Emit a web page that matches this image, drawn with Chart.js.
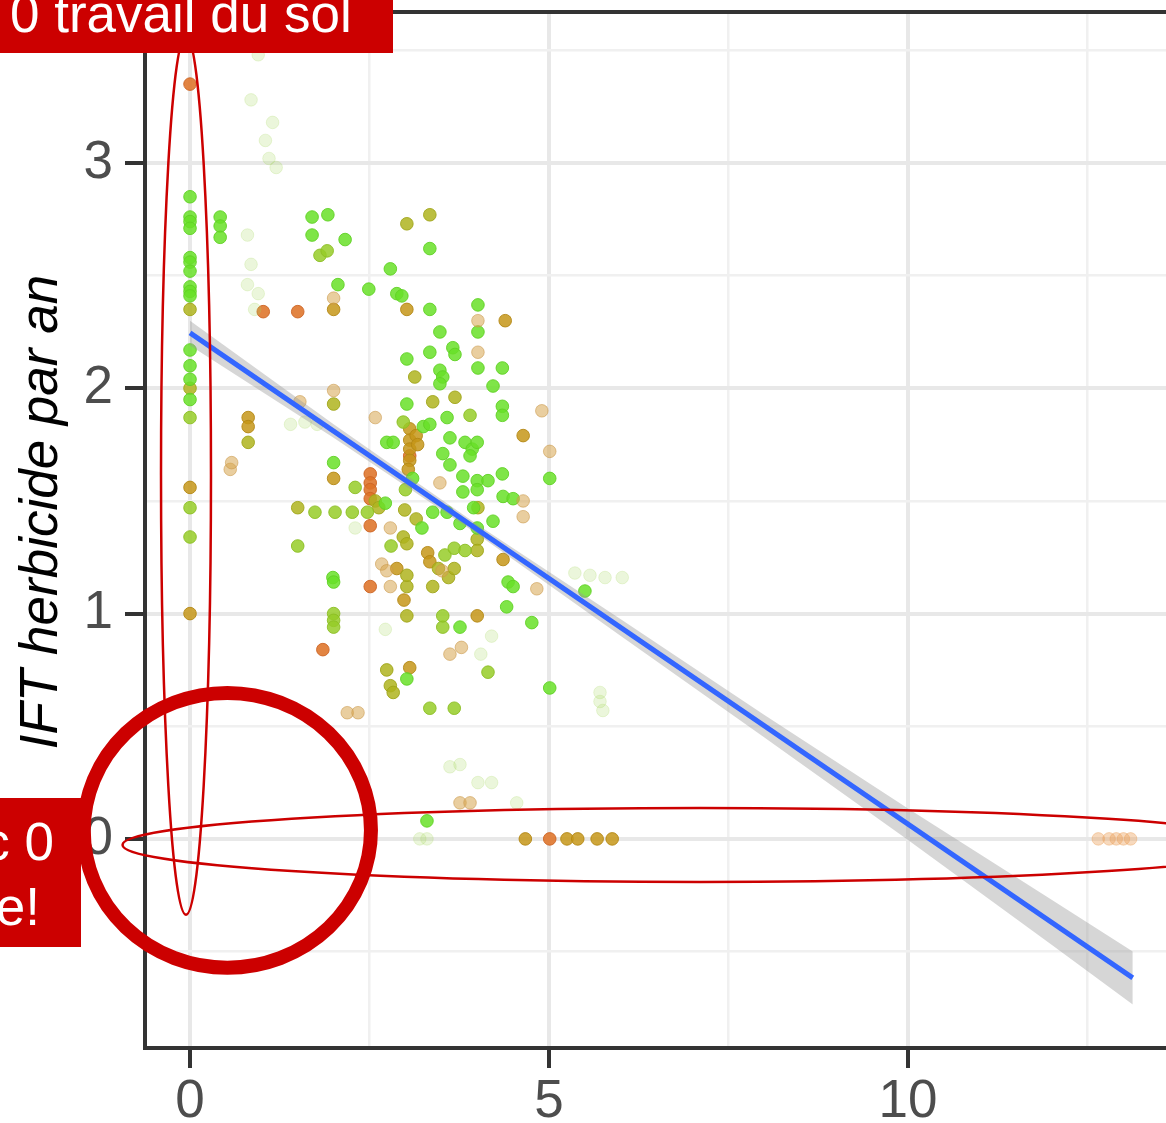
<!DOCTYPE html>
<html>
<head>
<meta charset="utf-8">
<script src="https://cdn.jsdelivr.net/npm/chart.js@4/dist/chart.umd.min.js"></script>
<style>
  html, body { margin: 0; padding: 0; background: #ffffff; overflow: hidden; }
  #wrap { width: 1166px; height: 1123px; }
</style>
</head>
<body>
<div id="wrap"><canvas id="chart" width="1166" height="1123"></canvas></div>
<script>
// ---- axes ----
const xTickValues = [0, 2.5, 5, 7.5, 10, 12.5];
const xTickLabels = ['0', '', '5', '', '10', ''];
const yTickValues = [-0.5, 0, 0.5, 1, 1.5, 2, 2.5, 3, 3.5];
const yTickLabels = ['', '0', '', '1', '', '2', '', '3', ''];
const yTitle = 'IFT herbicide par an';

// ---- observations, grouped by colour (x, IFT herbicide) ----
const greenPts = [
  [0,2.85],[0,2.76],[0,2.74],[0,2.71],[0,2.58],[0,2.56],[0,2.52],[0,2.45],[0,2.43],[0,2.41],
  [0,2.17],[0,2.10],[0,2.04],[0,1.95],[0.42,2.76],[0.42,2.72],[0.42,2.67],
  [1.70,2.76],[1.92,2.77],[1.70,2.68],[2.16,2.66],[2.06,2.46],[2.49,2.44],[2.79,2.53],[2.88,2.42],
  [2.95,2.41],[3.34,2.62],[3.34,2.35],[4.01,2.37],[4.01,2.25],[3.48,2.25],[3.34,2.16],[3.66,2.18],
  [3.69,2.15],[3.02,2.13],[3.48,2.08],[3.52,2.05],[3.48,2.02],[4.01,2.09],[4.35,2.09],[4.22,2.01],
  [3.02,1.93],[4.35,1.92],[4.35,1.88],[2.74,1.76],[2.83,1.76],[3.25,1.83],[3.34,1.84],[3.58,1.87],
  [3.62,1.78],[3.52,1.71],[3.83,1.76],[3.93,1.73],[4.00,1.76],[3.90,1.70],[4.35,1.62],[5.01,1.60],
  [2.00,1.67],[3.80,1.61],[4.00,1.59],[3.80,1.54],[4.00,1.55],[4.36,1.52],[4.50,1.51],[3.38,1.45],
  [3.58,1.45],[3.76,1.40],[4.00,1.38],[4.22,1.41],[3.23,1.38],[4.43,1.14],[4.50,1.12],[1.99,1.16],
  [2.00,1.14],[3.76,0.94],[4.41,1.03],[4.76,0.96],[5.01,0.67],[3.30,0.08],[5.50,1.10],[3.02,0.71],
  [2.72,1.49],[3.10,1.60],[3.62,1.66],[4.15,1.59],[3.95,1.47]
];
const limePts = [
  [0,1.87],[0,1.47],[0,1.34],[1.81,2.59],[1.91,2.61],[3.90,1.88],[2.97,1.85],[2.30,1.56],[3.00,1.55],
  [1.74,1.45],[2.02,1.45],[2.26,1.45],[2.47,1.45],[1.50,1.30],[3.55,1.26],[3.68,1.29],[3.83,1.28],
  [2.00,1.00],[2.00,0.97],[2.00,0.94],[3.52,0.94],[3.52,0.99],[3.34,0.58],[3.68,0.58],[4.15,0.74],
  [2.80,1.30]
];
const olivePts = [
  [0,2.35],[0,2.00],[3.02,2.73],[3.34,2.77],[3.13,2.05],[3.69,1.96],[3.38,1.94],[2.00,1.93],[1.50,1.47],
  [2.99,1.46],[3.15,1.42],[4.01,1.47],[2.97,1.34],[3.02,1.31],[4.00,1.33],[4.00,1.28],[3.46,1.20],
  [3.60,1.16],[3.68,1.20],[3.02,0.99],[2.74,0.75],[2.79,0.68],[2.83,0.65],[3.02,1.12],[3.02,1.17],
  [3.38,1.12],[0.81,1.76],[2.58,1.50],[2.63,1.47]
];
const amberPts = [
  [2.00,2.35],[3.02,2.35],[4.39,2.30],[0.81,1.87],[0.81,1.83],[3.06,1.82],[3.06,1.77],[3.06,1.73],
  [3.06,1.68],[3.04,1.64],[3.15,1.79],[3.17,1.75],[2.00,1.60],[3.31,1.27],[3.34,1.23],[4.36,1.24],
  [4.00,0.99],[3.06,0.76],[0,1.56],[0,1.00],[4.67,0],[5.25,0],[5.40,0],[5.67,0],[5.88,0],[4.64,1.79],
  [2.88,1.20],[2.98,1.06]
];
const orangePts = [
  [0,3.35],[1.02,2.34],[1.50,2.34],[2.51,1.62],[2.51,1.58],[2.51,1.55],[2.51,1.51],[2.51,1.39],
  [2.51,1.12],[5.01,0],[1.85,0.84],[3.06,1.70]
];
const tanPts = [
  [2.00,2.40],[4.01,2.30],[4.01,2.16],[4.90,1.90],[5.01,1.72],[2.58,1.87],[3.48,1.58],[4.64,1.50],
  [4.64,1.43],[2.79,1.38],[3.51,1.19],[4.83,1.11],[2.67,1.22],[2.74,1.19],[2.79,1.12],[3.78,0.85],
  [3.62,0.82],[2.19,0.56],[2.34,0.56],[3.76,0.16],[3.90,0.16],[0.56,1.64],[0.58,1.67],[1.53,1.94],
  [2.00,1.99]
];
const paleGreenPts = [
  [0.95,3.48],[0.85,3.28],[1.05,3.10],[1.15,3.18],[1.10,3.02],[1.20,2.98],[0.80,2.68],[0.85,2.55],
  [0.95,2.42],[0.80,2.46],[0.90,2.35],[1.40,1.84],[1.60,1.85],[1.77,1.84],[2.30,1.38],[2.72,0.93],
  [3.62,0.32],[3.76,0.33],[4.01,0.25],[4.20,0.25],[4.55,0.16],[3.20,0],[3.30,0],[5.36,1.18],
  [5.57,1.17],[5.78,1.16],[6.02,1.16],[5.71,0.65],[5.75,0.57],[5.71,0.61],[4.20,0.90],[4.05,0.82]
];
const paleOrangePts = [[12.65,0],[12.80,0],[12.90,0],[13.00,0],[13.10,0]];

// ---- linear fit and its confidence band ----
const fitX = [0, 13.13];
const fitY = [2.246, -0.617];
const bandX = [0, 2, 4, 6, 8, 10, 12, 13.13];
const bandUpper = [2.30, 1.84, 1.395, 0.975, 0.55, 0.135, -0.27, -0.50];
const bandLower = [2.19, 1.78, 1.353, 0.90, 0.45, -0.005, -0.47, -0.735];

// ---- callouts ----
const calloutTop = '0 travail du sol';
const calloutLeft = ['c 0', 'e!'];

const toXY = pts => pts.map(p => ({ x: p[0], y: p[1] }));
const zip = (xs, ys) => xs.map((v, i) => ({ x: v, y: ys[i] }));

const FONT = '"Liberation Sans", Arial, Helvetica, sans-serif';
const RED = '#cc0000';

function pointSet(pts, fill, edge) {
  return {
    type: 'scatter', data: toXY(pts), order: 5,
    pointRadius: 6.3, pointHoverRadius: 6.3, pointBorderWidth: 1,
    backgroundColor: fill, borderColor: edge
  };
}

const overlay = {
  id: 'overlay',
  afterDraw(chart) {
    const { ctx, chartArea, scales } = chart;
    const sx = scales.x, sy = scales.y;
    ctx.save();

    // upper panel border
    ctx.strokeStyle = '#333333';
    ctx.lineWidth = 4;
    ctx.beginPath();
    ctx.moveTo(chartArea.left - 2, chartArea.top);
    ctx.lineTo(chart.width, chartArea.top);
    ctx.stroke();

    // y axis title
    ctx.save();
    ctx.translate(57, 512);
    ctx.rotate(-Math.PI / 2);
    ctx.font = 'italic 53px ' + FONT;
    ctx.fillStyle = '#000000';
    ctx.textAlign = 'center';
    ctx.textBaseline = 'alphabetic';
    ctx.fillText(yTitle, 0, 0);
    ctx.restore();

    // highlighted regions (data units)
    const ring = (cx, cy, rx, ry, w) => {
      const px = sx.getPixelForValue(cx), py = sy.getPixelForValue(cy);
      const prx = Math.abs(sx.getPixelForValue(cx + rx) - px);
      const pry = Math.abs(sy.getPixelForValue(cy + ry) - py);
      ctx.beginPath();
      ctx.ellipse(px, py, prx, pry, 0, 0, Math.PI * 2);
      ctx.lineWidth = w;
      ctx.strokeStyle = RED;
      ctx.stroke();
    };
    ring(-0.056, 1.616, 0.348, 1.953, 2.5);   // x = 0 column
    ring(7.10, -0.027, 8.04, 0.164, 2.5);     // y = 0 row
    ring(0.52, 0.038, 2.0, 0.61, 14);         // origin

    // callout boxes
    ctx.fillStyle = RED;
    ctx.fillRect(0, 0, 393, 53);
    ctx.fillRect(0, 798, 81, 149);
    ctx.fillStyle = '#ffffff';
    ctx.font = '53px ' + FONT;
    ctx.textBaseline = 'alphabetic';
    ctx.textAlign = 'left';
    ctx.fillText(calloutTop, 10, 32);
    ctx.textAlign = 'right';
    ctx.fillText(calloutLeft[0], 54, 860);
    ctx.fillText(calloutLeft[1], 40, 925);
    ctx.restore();
  }
};

new Chart(document.getElementById('chart'), {
  type: 'scatter',
  data: {
    datasets: [
      {
        type: 'line', data: zip(fitX, fitY), order: 0,
        borderColor: '#3366ff', borderWidth: 5, pointRadius: 0, fill: false, tension: 0
      },
      {
        type: 'line', data: zip(bandX, bandUpper), order: 1,
        borderWidth: 0, borderColor: 'rgba(0,0,0,0)', pointRadius: 0,
        backgroundColor: 'rgba(153,153,153,0.4)', fill: '+1', tension: 0
      },
      {
        type: 'line', data: zip(bandX, bandLower), order: 2,
        borderWidth: 0, borderColor: 'rgba(0,0,0,0)', pointRadius: 0, fill: false, tension: 0
      },
      pointSet(paleOrangePts, 'rgba(235,160,90,0.40)', 'rgba(235,160,90,0.40)'),
      pointSet(paleGreenPts, 'rgba(165,215,90,0.22)', 'rgba(165,215,90,0.22)'),
      pointSet(tanPts, 'rgba(215,165,80,0.55)', 'rgba(200,150,70,0.55)'),
      pointSet(greenPts, 'rgba(104,224,40,0.85)', 'rgba(95,208,36,0.9)'),
      pointSet(limePts, 'rgba(150,205,40,0.85)', 'rgba(140,190,35,0.9)'),
      pointSet(olivePts, 'rgba(175,180,30,0.85)', 'rgba(160,165,25,0.9)'),
      pointSet(amberPts, 'rgba(198,150,25,0.85)', 'rgba(180,135,20,0.9)'),
      pointSet(orangePts, 'rgba(222,115,40,0.88)', 'rgba(205,100,35,0.9)')
    ]
  },
  options: {
    responsive: false,
    animation: false,
    devicePixelRatio: 1,
    layout: { autoPadding: false, padding: { top: 12, right: 0, bottom: 0, left: 0 } },
    plugins: { legend: { display: false }, tooltip: { enabled: false }, title: { display: false } },
    scales: {
      x: {
        type: 'linear', min: -0.627, max: 13.593,
        afterBuildTicks: (s) => { s.ticks = xTickValues.map(v => ({ value: v })); },
        afterFit: (s) => { s.height = 75; s.paddingLeft = 0; s.paddingRight = 0; },
        ticks: {
          autoSkip: false, maxRotation: 0, padding: 3,
          color: '#4d4d4d', font: { family: FONT, size: 53 },
          callback: (v) => { const i = xTickValues.indexOf(v); return i >= 0 ? xTickLabels[i] : ''; }
        },
        grid: {
          color: (c) => (c.tick && c.tick.value % 5 === 0) ? '#e8e8e8' : '#f0f0f0',
          lineWidth: (c) => (c.tick && c.tick.value % 5 === 0) ? 4 : 2.5,
          tickColor: (c) => (c.tick && c.tick.value % 5 === 0) ? '#333333' : 'rgba(0,0,0,0)',
          tickWidth: 4, tickLength: 20
        },
        border: { display: true, color: '#333333', width: 4 }
      },
      y: {
        type: 'linear', min: -0.928, max: 3.67,
        afterBuildTicks: (s) => { s.ticks = yTickValues.map(v => ({ value: v })); },
        afterFit: (s) => { s.width = 145; s.paddingTop = 0; s.paddingBottom = 0; },
        ticks: {
          autoSkip: false, padding: 12,
          color: '#4d4d4d', font: { family: FONT, size: 53 },
          callback: (v) => { const i = yTickValues.indexOf(v); return i >= 0 ? yTickLabels[i] : ''; }
        },
        grid: {
          color: (c) => (c.tick && Number.isInteger(c.tick.value)) ? '#e8e8e8' : '#f0f0f0',
          lineWidth: (c) => (c.tick && Number.isInteger(c.tick.value)) ? 4 : 2.5,
          tickColor: (c) => (c.tick && Number.isInteger(c.tick.value)) ? '#333333' : 'rgba(0,0,0,0)',
          tickWidth: 4, tickLength: 20
        },
        border: { display: true, color: '#333333', width: 4 }
      }
    }
  },
  plugins: [overlay]
});
</script>
</body>
</html>
